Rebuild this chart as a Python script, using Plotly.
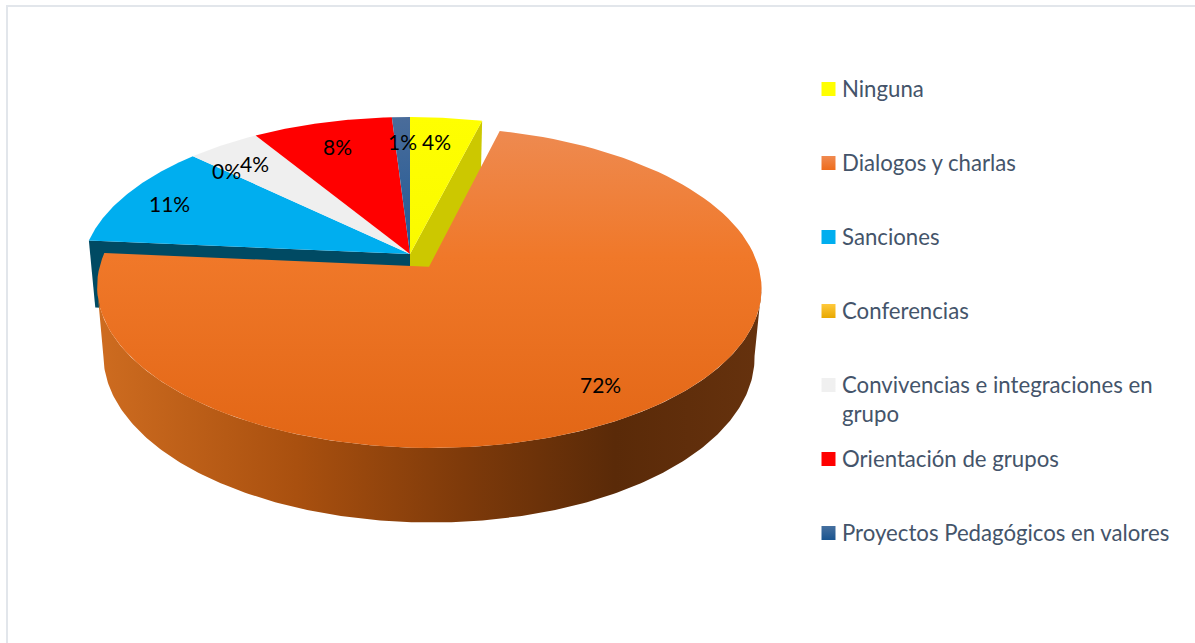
import numpy as np
import plotly.graph_objects as go

# --- data -------------------------------------------------------------
categories = ["Ninguna", "Dialogos y charlas", "Sanciones", "Conferencias",
              "Convivencias e integraciones en<br>grupo", "Orientación de grupos",
              "Proyectos Pedagógicos en valores"]
values = [4.0, 72.4, 10.7, 0.0, 4.1, 7.8, 1.0]
explode = [0, 0.1, 0, 0, 0, 0, 0]

# --- styles -----------------------------------------------------------
# vertical gradients run from the bottom of the picture (0) to the top (1)
top_colors = [
    [[0, "#FAFA00"], [1, "#FFFF00"]],
    [[0, "#E26615"], [0.6, "#F07829"], [1, "#EE8A50"]],
    [[0, "#00AEEF"], [1, "#00AEEF"]],
    [[0, "#FFC000"], [1, "#FFC000"]],
    [[0, "#EFEFEF"], [1, "#EFEFEF"]],
    [[0, "#FF0000"], [1, "#FF0000"]],
    [[0, "#1F5A96"], [1, "#4A6C9A"]],
]
swatch_top = ["#FFFF00", "#F08A50", "#00AEEF", "#FFC93C", "#F0F0F0", "#FF0000", "#46709F"]
swatch_bot = ["#FFFF00", "#EE6C1C", "#00AEEF", "#E8A800", "#F0F0F0", "#FF0000", "#1A5590"]
wall_colors = ["#CCC800", None, "#004A63", None, None, None, None]
front_wall_scale = [[0, "#CE6C20"], [0.3, "#A9500F"], [0.55, "#7E3A0A"],
                    [0.78, "#5A2A08"], [1, "#66320E"]]
LEGEND_X, LEGEND_Y0, LEGEND_STEP = 828.5, 89, 74
LABEL_POS = [(436, 141), (600, 384), (169, 203), (226, 170), (254, 163), (337, 146), (402, 141)]
TEXT_COLOR = "#44546A"

# --- projection of the tilted pie --------------------------------------
CX, CY = 410, 254
A, B, K = 326, 154.5, 0.128
SX, SY, DROP = 0.98, 1.036, 67.5


def project(theta, r=1.0, off=(0.0, 0.0), bottom=False):
    px = r * np.sin(theta) + off[0]
    py = r * np.cos(theta) + off[1]
    w = 1 + K * py
    x, y = A * px / w, B * py / w
    if bottom:
        return CX + SX * x, CY - SY * y + DROP
    return CX + x, CY - y


edges = np.cumsum([0] + values) / sum(values) * 2 * np.pi
fig = go.Figure()


def poly(x, y, name, **kw):
    fig.add_trace(go.Scatter(x=list(x), y=list(y), mode="lines", fill="toself",
                             line=dict(width=0), name=name, showlegend=False,
                             hoverinfo="name", **kw))


offsets = []
for i, e in enumerate(explode):
    mid = (edges[i] + edges[i + 1]) / 2
    offsets.append((e * np.sin(mid), e * np.cos(mid)))

# cut walls of the slices that sit behind the exploded one
for i, c in enumerate(wall_colors):
    if c is None:
        continue
    edge = edges[i + 1] if i == 0 else edges[i]
    x0, y0 = project(edge, 0.0, offsets[i])
    x1, y1 = project(edge, 1.0, offsets[i])
    x2, y2 = project(edge, 1.0, offsets[i], True)
    x3, y3 = project(edge, 0.0, offsets[i], True)
    poly([x0, x1, x2, x3, x0], [y0, y1, y2, y3, y0], categories[i] + " (pared)", fillcolor=c)

# top faces of the slices that stay in place
order = [i for i in range(len(values)) if explode[i] == 0]


def wedge(i):
    t = np.linspace(edges[i], edges[i + 1], 120)
    ax, ay = project(0, 0.0, offsets[i])
    x, y = project(t, 1.0, offsets[i])
    return np.r_[ax, x, ax], np.r_[ay, y, ay]


for i in order:
    x, y = wedge(i)
    grad = dict(type="vertical", colorscale=top_colors[i])
    poly(x, y, categories[i], fillgradient=grad)

# exploded slice: front wall and top
for i, e in enumerate(explode):
    if e == 0:
        continue
    t = np.linspace(np.arccos(-K), 2 * np.pi - np.arccos(-K), 240)
    tx, ty = project(t, 1.0, offsets[i])
    bx, by = project(t, 1.0, offsets[i], True)
    poly(np.r_[tx, bx[::-1], tx[0]], np.r_[ty, by[::-1], ty[0]], categories[i] + " (lateral)",
         fillgradient=dict(type="horizontal", colorscale=front_wall_scale))
    x, y = wedge(i)
    poly(x, y, categories[i], fillgradient=dict(type="vertical", colorscale=top_colors[i]))

# custom legend: squares in a scatter trace, wrapped names as text
leg_y = [LEGEND_Y0 + LEGEND_STEP * k for k in range(len(categories))]
for k, name in enumerate(categories):
    fig.add_trace(go.Scatter(
        x=[LEGEND_X], y=[leg_y[k]], mode="markers", showlegend=False, hoverinfo="skip",
        marker=dict(symbol="square", size=14, color=swatch_top[k], line=dict(width=0),
                    gradient=dict(type="vertical", color=swatch_bot[k]))))
    fig.add_annotation(x=LEGEND_X + 12.5, y=leg_y[k] - 15, text=name, xanchor="left", yanchor="top",
                       align="left", showarrow=False, xref="x", yref="y", borderpad=0,
                       font=dict(family="Lato", size=22.2, color=TEXT_COLOR))

# percentage labels
for (lx, ly), v in zip(LABEL_POS, values):
    fig.add_annotation(x=lx, y=ly, text=f"{round(v)}%", showarrow=False, xref="x", yref="y",
                       font=dict(family="Lato", size=21, color="#000000"))

fig.update_layout(
    width=1195, height=643, margin=dict(l=0, r=0, t=0, b=0),
    paper_bgcolor="white", plot_bgcolor="white",
    xaxis=dict(range=[0, 1195], visible=False, fixedrange=True),
    yaxis=dict(range=[643, 0], visible=False, fixedrange=True),
    shapes=[dict(type="rect", xref="x", yref="y", x0=7, y0=6, x1=1230, y1=680,
                 line=dict(color="#E2E6EB", width=2), fillcolor="rgba(0,0,0,0)", layer="below")],
)
fig.write_html("out.html", config={"displayModeBar": False},
               post_script="document.body.style.margin='0';")
